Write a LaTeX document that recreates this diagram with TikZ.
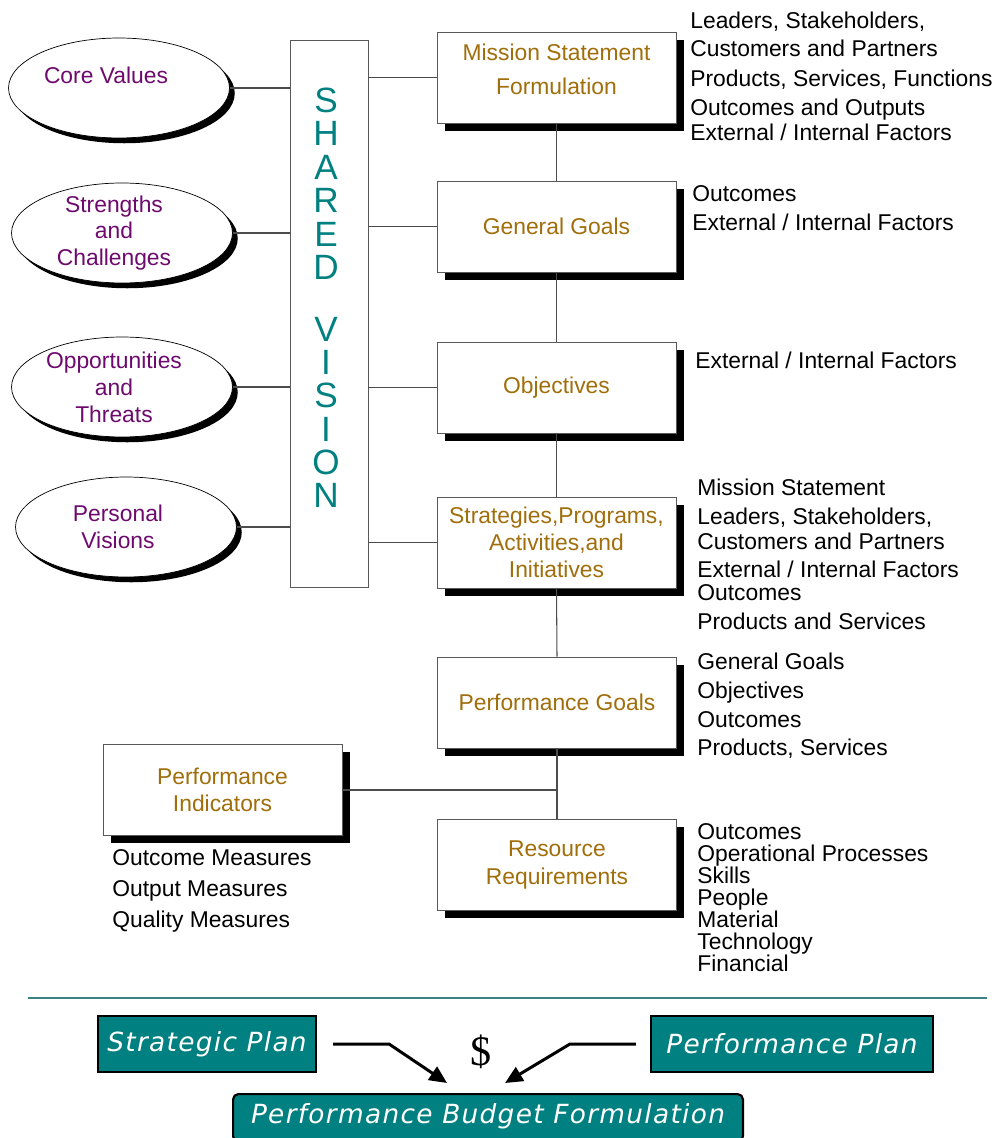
\documentclass[tikz,border=0pt]{standalone}
\usepackage{fontspec}
\setmainfont{Liberation Sans}
\newfontfamily\planfont[LetterSpace=5]{DejaVu Sans}
\newfontfamily\dollarfont{Liberation Serif}
\usetikzlibrary{shapes.geometric,shadows,arrows.meta}

\definecolor{goldtext}{RGB}{160,110,10}
\definecolor{plumtext}{RGB}{110,10,110}
\definecolor{visionteal}{RGB}{0,128,128}
\definecolor{rulegray}{RGB}{60,130,130}

\tikzset{
  goalbox/.style={draw=gray!70!black, fill=white, minimum width=4.78cm, minimum height=1.82cm,
    align=center, text=goldtext, font=\fontsize{13}{15.5}\selectfont,
    drop shadow={shadow xshift=4.5pt, shadow yshift=-4.5pt, fill=black, opacity=1}},
  valueoval/.style={ellipse, draw, fill=white, minimum width=4.42cm, minimum height=2cm,
    drop shadow={shadow xshift=3pt, shadow yshift=-3pt, fill=black, opacity=1}},
  valuetext/.style={text=plumtext, align=center, font=\fontsize{13}{15.3}\selectfont, xshift=-0.16cm},
  visionbox/.style={draw=gray!70!black, fill=white, minimum width=1.56cm, minimum height=10.94cm},
  visiontext/.style={text=visionteal, align=center, font=\fontsize{20}{19}\selectfont},
  notes/.style={anchor=north west, inner sep=0pt, align=left, font=\fontsize{13}{15.5}\selectfont},
  link/.style={draw=gray!60!black, line width=0.6pt},
  planbox/.style={draw=black, line width=1.2pt, fill=visionteal, text=white,
    font=\planfont\itshape\fontsize{15}{18}\selectfont, minimum height=1.12cm},
  planarrow/.style={line width=1.7pt, -{Triangle[length=10pt,width=9pt]}},
  sepline/.style={draw=rulegray, line width=0.6pt}
}

\begin{document}
\begin{tikzpicture}[x=0.02cm,y=-0.02cm]
    \useasboundingbox (0,0) rectangle (999,1138);
    %% Values feeding the shared vision
    \node[valueoval, label={[valuetext,shift={(-5,-13)}]center:Core Values}] (cv) at (119,88) {};
    \node[valueoval, label={[valuetext]center:Strengths\\and\\Challenges}] (sc) at (122,233) {};
    \node[valueoval, label={[valuetext]center:Opportunities\\and\\Threats}] (ot) at (122,387) {};
    \node[valueoval, label={[valuetext]center:Personal\\Visions}] (pv) at (126,527) {};
    %% Shared vision
    \node[visionbox] (sv) at (329,313.5) {};
    \node[visiontext] (svtext) at (326,298) {S\\H\\A\\R\\E\\D\\[16pt]V\\I\\S\\I\\O\\N};
    %% Planning steps
    \node[goalbox] (ms) at (556.5,77.5) {Mission Statement\\[4pt]Formulation\\[-6pt]};
    \node[goalbox] (gg) at (556.5,226.5) {General Goals};
    \node[goalbox] (ob) at (556.5,387.5) {Objectives};
    \node[goalbox] (st) at (556.5,542.5) {Strategies,Programs,\\Activities,and\\Initiatives};
    \node[goalbox] (pg) at (557,702.5) {Performance Goals};
    \node[goalbox] (rr) at (557,865) {Resource\\[1pt]Requirements};
    \node[goalbox] (pi) at (222.5,790) {Performance\\Indicators};
    %% Connectors
    \foreach \v in {cv,sc,ot,pv}
        \draw[link] (\v.east) -- (\v.east -| sv.west);
    \foreach \g in {ms,gg,ob,st}
        \draw[link] (sv.east |- \g.west) -- (\g.west);
    \draw[link] (ms.south) -- (gg.north);
    \draw[link] (gg.south) -- (ob.north);
    \draw[link] (ob.south) -- (st.north);
    \draw[link] (st.south) -- (pg.north);
    \draw[link] (pg.south) -- (rr.north);
    \draw[link] (pi.east) -- (pi.east -| pg.south);
    %% Notes
    \node[notes] (msnotes) at (690,12) {Leaders, Stakeholders,\\Customers and Partners\\[2pt]Products, Services, Functions\\[1pt]Outcomes and Outputs\\[-1.3pt]External / Internal Factors};
    \node[notes, font=\fontsize{13}{16.4}\selectfont] (ggnotes) at (692,185) {Outcomes\\External / Internal Factors};
    \node[notes] (obnotes) at (695,352) {External / Internal Factors};
    \node[notes] (stnotes) at (697,479) {Mission Statement\\[1pt]Leaders, Stakeholders,\\[-1.3pt]Customers and Partners\\[0.4pt]External / Internal Factors\\[-2.4pt]Outcomes\\[1pt]Products and Services};
    \node[notes, font=\fontsize{13}{16.3}\selectfont] (pgnotes) at (697,653) {General Goals\\Objectives\\Outcomes\\Products, Services};
    \node[notes, font=\fontsize{13}{12.5}\selectfont] (rrnotes) at (697,823) {Outcomes\\Operational Processes\\Skills\\People\\Material\\Technology\\Financial};
    \node[notes, font=\fontsize{13}{17.6}\selectfont] (pinotes) at (112,849) {Outcome Measures\\Output Measures\\Quality Measures};
    %% Plans
    \draw[sepline] (28,998) -- (987,998);
    \node[planbox, minimum width=4.36cm] (sp) at (207,1044) {Strategic Plan};
    \node[planbox, minimum width=5.64cm] (pp) at (792,1044) {Performance Plan};
    \node[planbox, rounded corners=3pt, minimum width=10.2cm, minimum height=0pt, anchor=north,
          text height=11pt, text depth=4pt, inner ysep=6pt] (pbf) at (488,1093) {Performance Budget Formulation};
    \node[font=\dollarfont\fontsize{24}{24}\selectfont] (usd) at (481,1052) {\$};
    \coordinate (tipL) at (447,1083);
    \coordinate (tipR) at (505,1083);
    \draw[planarrow] ([xshift=0.32cm]sp.east) -- ++(56,0) -- (tipL);
    \draw[planarrow] ([xshift=-0.28cm]pp.west) -- ++(-66,0) -- (tipR);
\end{tikzpicture}
\end{document}
